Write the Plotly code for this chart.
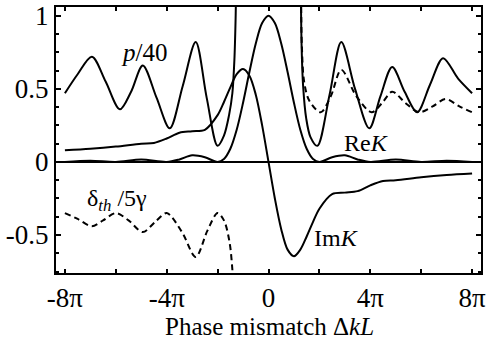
import plotly.graph_objects as go

# x in units of pi (Delta k L / pi)
p_x = [-8.0, -7.5, -6.94, -6.4, -5.84, -5.4, -4.94, -4.4, -3.88, -3.37, -2.86, -2.43, -2.0, -1.75, -1.55, -1.42, -1.34, -1.29, -1.25]
p_y = [0.47, 0.60, 0.72, 0.55, 0.36, 0.48, 0.66, 0.44, 0.23, 0.52, 0.82, 0.44, 0.11, 0.18, 0.32, 0.47, 0.70, 1.00, 1.40]
p_x2 = [1.26, 1.30, 1.36, 1.48, 1.65, 1.92, 2.40, 2.86, 3.40, 3.96, 4.40, 4.86, 5.35, 5.84, 6.35, 6.86, 7.45, 8.0]
p_y2 = [1.40, 0.80, 0.52, 0.30, 0.17, 0.11, 0.46, 0.82, 0.50, 0.23, 0.45, 0.65, 0.48, 0.34, 0.53, 0.71, 0.57, 0.47]

d_x = [-8.0, -7.5, -6.94, -6.5, -6.0, -5.5, -4.94, -4.45, -4.0, -3.4, -2.86, -2.4, -2.0, -1.75, -1.53, -1.41, -1.33, -1.28]
d_y = [-0.35, -0.39, -0.44, -0.40, -0.35, -0.40, -0.48, -0.41, -0.35, -0.48, -0.65, -0.47, -0.35, -0.40, -0.55, -0.76, -1.00, -1.30]
d_x2 = [1.28, 1.31, 1.40, 1.60, 2.05, 2.45, 2.86, 3.45, 4.05, 4.45, 4.86, 5.40, 5.92, 6.45, 6.96, 7.50, 8.0]
d_y2 = [1.20, 0.80, 0.55, 0.42, 0.34, 0.45, 0.63, 0.45, 0.34, 0.40, 0.48, 0.40, 0.34, 0.38, 0.43, 0.38, 0.34]

re_x = [-8, -7, -6, -5, -4, -3.5, -3, -2.5, -2, -1.75, -1.5, -1.25, -1, -0.75, -0.5, -0.25, 0,
        0.25, 0.5, 0.75, 1, 1.25, 1.5, 1.75, 2, 2.5, 3, 3.5, 4, 5, 6, 7, 8]
re_y = [0.0, 0.008, 0.0, 0.016, 0.0, 0.017, 0.045, 0.032, 0.0, 0.02, 0.09, 0.22, 0.405, 0.615, 0.81, 0.95, 1.0,
        0.95, 0.81, 0.615, 0.405, 0.22, 0.09, 0.02, 0.0, 0.032, 0.045, 0.017, 0.0, 0.016, 0.0, 0.008, 0.0]

im_x = [-8, -7, -6, -5, -4.5, -4, -3.5, -3, -2.5, -2, -1.75, -1.5, -1.25, -1, -0.75, -0.5, -0.25, 0,
        0.25, 0.5, 0.75, 1, 1.25, 1.5, 1.75, 2, 2.5, 3, 3.5, 4, 4.5, 5, 6, 7, 8]
im_y = [0.08, 0.09, 0.105, 0.125, 0.13, 0.16, 0.20, 0.21, 0.22, 0.32, 0.41, 0.51, 0.60, 0.635, 0.59, 0.46, 0.25, 0.0,
        -0.25, -0.46, -0.60, -0.645, -0.60, -0.51, -0.41, -0.32, -0.22, -0.21, -0.20, -0.16, -0.13, -0.125, -0.105, -0.09, -0.08]

tick_vals = [-8, -4, 0, 4, 8]
tick_text = ["-8π", "-4π", "0", "4π", "8π"]

FONT = "Liberation Serif"
solid = dict(color="black", width=2)
dashed = dict(color="black", width=2, dash="6px,4px")

fig = go.Figure()
for xs, ys, ln in [(p_x, p_y, solid), (p_x2, p_y2, solid), (d_x, d_y, dashed), (d_x2, d_y2, dashed),
                   (re_x, re_y, solid), (im_x, im_y, solid)]:
    fig.add_trace(go.Scatter(x=xs, y=ys, mode="lines", line=dict(shape="spline", smoothing=0.9, **ln),
                             showlegend=False, hoverinfo="skip"))

ann = [
    (-4.9, 0.75, "<i>p</i>/40", 25),
    (3.85, 0.13, "Re<i>K</i>", 24),
    (2.67, -0.52, "Im<i>K</i>", 24),
    (-5.96, -0.26, "δ<sub><i>th</i></sub> /5γ", 24),
]
for x, y, t, s in ann:
    fig.add_annotation(x=x, y=y, text=t, showarrow=False, font=dict(family=FONT, size=s, color="black"))

fig.add_annotation(xref="paper", yref="paper", x=0.503, y=-0.2, text="Phase mismatch Δ<i>kL</i>",
                   showarrow=False, yanchor="middle", font=dict(family=FONT, size=25, color="black"))

fig.update_layout(
    width=490, height=340,
    margin=dict(l=56, r=9, t=7, b=67, autoexpand=False),
    plot_bgcolor="white", paper_bgcolor="white",
    font=dict(family=FONT, color="black"),
)
fig.update_xaxes(
    range=[-8.35, 8.35], tickvals=tick_vals, ticktext=tick_text,
    ticks="inside", ticklen=4, tickcolor="black", tickwidth=1.5,
    minor=dict(ticks="inside", ticklen=4, tickvals=[-6, -2, 2, 6], tickcolor="black", tickwidth=1.5),
    showgrid=False, zeroline=False, showline=True, linecolor="black", linewidth=2, mirror="ticks",
    tickfont=dict(family=FONT, size=27), automargin=False,
)
fig.update_yaxes(
    range=[-0.76, 1.06], tickvals=[-0.5, 0, 0.5, 1], ticktext=["-0.5", "0", "0.5", "1"],
    ticks="inside", ticklen=5, tickcolor="black", tickwidth=1.5,
    minor=dict(ticks="inside", ticklen=3, dtick=0.125, tick0=0, tickcolor="black"),
    showgrid=False, zeroline=True, zerolinecolor="black", zerolinewidth=1.5,
    showline=True, linecolor="black", linewidth=2, mirror="ticks",
    tickfont=dict(family=FONT, size=27), automargin=False,
)
fig.write_html("out.html", config={"displayModeBar": False},
               post_script="document.body.style.margin='0';document.body.style.overflow='hidden';")
